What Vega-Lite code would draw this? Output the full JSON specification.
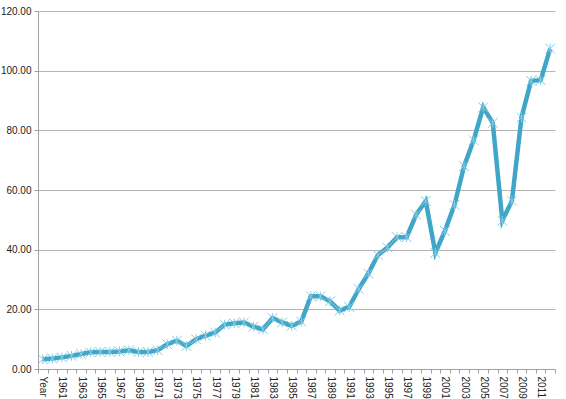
{
  "$schema": "https://vega.github.io/schema/vega-lite/v6.json",
  "width": 517,
  "height": 358,
  "autosize": {"type": "none"},
  "padding": {"left": 38, "top": 11, "right": 11, "bottom": 30},
  "config": {"view": {"stroke": null}, "font": "Liberation Sans"},
  "data": {"values": [
    {"year": "Year", "value": 3.3},
    {"year": "1960", "value": 3.5},
    {"year": "1961", "value": 3.9},
    {"year": "1962", "value": 4.4},
    {"year": "1963", "value": 5.0},
    {"year": "1964", "value": 5.6},
    {"year": "1965", "value": 5.7},
    {"year": "1966", "value": 5.7},
    {"year": "1967", "value": 5.9},
    {"year": "1968", "value": 6.3},
    {"year": "1969", "value": 5.7},
    {"year": "1970", "value": 5.7},
    {"year": "1971", "value": 6.3},
    {"year": "1972", "value": 8.3},
    {"year": "1973", "value": 9.5},
    {"year": "1974", "value": 7.7},
    {"year": "1975", "value": 10.0},
    {"year": "1976", "value": 11.2},
    {"year": "1977", "value": 12.2},
    {"year": "1978", "value": 14.9},
    {"year": "1979", "value": 15.3},
    {"year": "1980", "value": 15.6},
    {"year": "1981", "value": 14.2},
    {"year": "1982", "value": 13.3},
    {"year": "1983", "value": 17.1},
    {"year": "1984", "value": 15.6},
    {"year": "1985", "value": 14.5},
    {"year": "1986", "value": 15.9},
    {"year": "1987", "value": 24.4},
    {"year": "1988", "value": 24.4},
    {"year": "1989", "value": 22.7},
    {"year": "1990", "value": 19.6},
    {"year": "1991", "value": 20.8},
    {"year": "1992", "value": 26.8},
    {"year": "1993", "value": 32.0},
    {"year": "1994", "value": 38.2},
    {"year": "1995", "value": 40.7},
    {"year": "1996", "value": 44.2},
    {"year": "1997", "value": 44.2},
    {"year": "1998", "value": 51.7},
    {"year": "1999", "value": 56.3},
    {"year": "2000", "value": 38.9},
    {"year": "2001", "value": 46.3},
    {"year": "2002", "value": 55.0},
    {"year": "2003", "value": 68.0},
    {"year": "2004", "value": 76.7},
    {"year": "2005", "value": 87.7},
    {"year": "2006", "value": 82.5},
    {"year": "2007", "value": 49.7},
    {"year": "2008", "value": 56.4},
    {"year": "2009", "value": 84.3},
    {"year": "2010", "value": 96.6},
    {"year": "2011", "value": 96.8},
    {"year": "2012", "value": 107.4}
  ]},
  "encoding": {
    "x": {
      "field": "year",
      "type": "ordinal",
      "sort": null,
      "bandPosition": 0.5,
      "scale": {"type": "band", "paddingInner": 0, "paddingOuter": 0},
      "axis": {
        "title": null,
        "labelAngle": 90,
        "labelAlign": "left",
        "labelBaseline": "middle",
        "labelOverlap": false,
        "labelFontSize": 10,
        "labelColor": "#222222",
        "labelPadding": 3,
        "labelExpr": "datum.value == 'Year' || toNumber(datum.value) % 2 == 1 ? datum.label : ''",
        "tickBand": "extent",
        "tickSize": 4,
        "tickColor": "#a0a0a0",
        "domainColor": "#a0a0a0",
        "grid": false
      }
    },
    "y": {
      "field": "value",
      "type": "quantitative",
      "scale": {"domain": [0, 120], "nice": false},
      "axis": {
        "title": null,
        "values": [0, 20, 40, 60, 80, 100, 120],
        "format": ".2f",
        "grid": true,
        "gridColor": "#b5b5b5",
        "domainColor": "#a0a0a0",
        "tickColor": "#a0a0a0",
        "tickSize": 4,
        "labelFontSize": 10,
        "labelColor": "#222222",
        "labelPadding": 3
      }
    }
  },
  "layer": [
    {"mark": {"type": "line", "color": "#40a6c8", "strokeWidth": 4.5, "strokeJoin": "miter"}},
    {"mark": {"type": "point", "shape": "M-1,-1L1,1M1,-1L-1,1M0,-1L0,1", "filled": false, "stroke": "#86cbe2", "strokeWidth": 1, "size": 95, "opacity": 1}}
  ]
}
